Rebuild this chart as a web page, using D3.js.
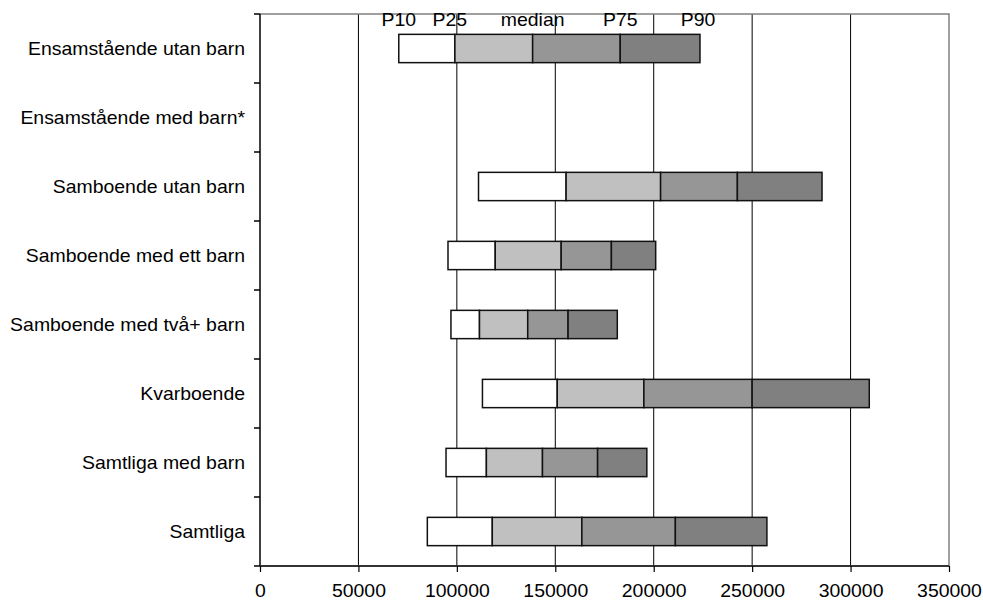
<!DOCTYPE html>
<html><head><meta charset="utf-8">
<script src="https://cdn.jsdelivr.net/npm/d3@7"></script>
<style>body{margin:0;background:#fff}svg{display:block}text{font-family:"Liberation Sans",Arial,sans-serif}</style>
</head><body>
<script>
const categories = ["Ensamstående utan barn","Ensamstående med barn*","Samboende utan barn","Samboende med ett barn","Samboende med två+ barn","Kvarboende","Samtliga med barn","Samtliga"];
const p10    = [70500, null, 111000, 95500, 97000, 113000, 94500, 85000];
const p25    = [99000, null, 155500, 119500, 111500, 151000, 115000, 118000];
const median = [138500, null, 203500, 153000, 136000, 195000, 143500, 163500];
const p75    = [183000, null, 242500, 178500, 156500, 250000, 171500, 211000];
const p90    = [223500, null, 285500, 201000, 181500, 309500, 196500, 257500];
const seriesLabels = ["P10","P25","median","P75","P90"];
const xTicks = [0,50000,100000,150000,200000,250000,300000,350000];
const segColors = ["#ffffff","#c0c0c0","#969696","#808080"];

const W=983,H=603;
const L=260,R=949,T=14,B=566;
const svg=d3.select("body").append("svg").attr("width",W).attr("height",H);
const x=d3.scaleLinear().domain([0,350000]).range([L,R]);
const y=d3.scaleBand().domain(categories).range([T,B]);
const fs=18, sx=1.08;

// gridlines
svg.append("g").selectAll("line").data(xTicks.slice(1,-1)).join("line")
  .attr("x1",d=>x(d)).attr("x2",d=>x(d)).attr("y1",T).attr("y2",B)
  .attr("stroke","#000").attr("stroke-width",1);
// plot border top/right
svg.append("path").attr("d",`M${L},${T}H${R}V${B}`).attr("fill","none").attr("stroke","#808080").attr("stroke-width",1.5);

// bars
const series=[p10,p25,median,p75,p90];
const segs=[];
categories.forEach((c,i)=>{
  for(let k=0;k<4;k++){
    const a=series[k][i], b=series[k+1][i];
    if(a==null||b==null) continue;
    segs.push({c,a,b,k});
  }
});
const bh=y.bandwidth()*0.41;
svg.append("g").selectAll("rect").data(segs).join("rect")
  .attr("x",d=>x(d.a)).attr("width",d=>x(d.b)-x(d.a))
  .attr("y",d=>y(d.c)+y.bandwidth()/2-bh/2).attr("height",bh)
  .attr("fill",d=>segColors[d.k]).attr("stroke","#111").attr("stroke-width",1.5);

// series labels above first bar
const labOff=[0,-5,0,0,-2];
svg.append("g").selectAll("text").data(seriesLabels).join("text")
  .attr("transform",(d,i)=>`translate(${x(series[i][0])+labOff[i]},26) scale(${sx},1)`)
  .attr("text-anchor","middle").attr("font-size",fs).attr("fill","#000").text(d=>d);

// y axis
svg.append("line").attr("x1",L).attr("x2",L).attr("y1",T).attr("y2",B).attr("stroke","#000").attr("stroke-width",1.5);
const bounds=categories.map(c=>y(c)).concat([B]);
svg.append("g").selectAll("line").data(bounds).join("line")
  .attr("x1",L-6).attr("x2",L).attr("y1",d=>d).attr("y2",d=>d).attr("stroke","#000").attr("stroke-width",1.5);
svg.append("g").selectAll("text").data(categories).join("text")
  .attr("transform",d=>`translate(${L-15},${y(d)+y.bandwidth()/2}) scale(${sx},1)`).attr("dy","0.35em")
  .attr("text-anchor","end").attr("font-size",fs).attr("fill","#000").text(d=>d);

// x axis
const xa=svg.append("g").attr("transform",`translate(0,${B})`)
  .call(d3.axisBottom(x).tickValues(xTicks).tickSize(6).tickPadding(12).tickFormat(d3.format("d")));
xa.select(".domain").attr("stroke","#333").attr("stroke-width",2).attr("d",`M${L},0H${R}`);
xa.selectAll(".tick line").attr("stroke","#000").attr("stroke-width",1.2);
xa.selectAll(".tick text").attr("font-size",fs).attr("fill","#000").attr("transform",`scale(${sx},1)`)
  .attr("font-family",'"Liberation Sans",Arial,sans-serif');
</script>
</body></html>
